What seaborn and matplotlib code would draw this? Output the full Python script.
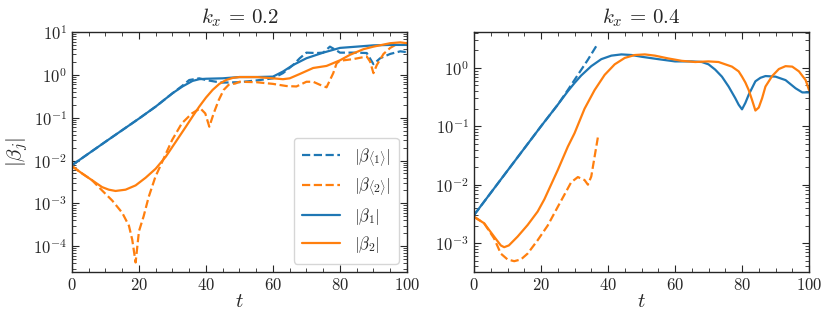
import matplotlib
matplotlib.use("Agg")
import matplotlib.pyplot as plt
import matplotlib.ticker as mticker
import seaborn as sns

# -----------------------
# data (|beta| vs t)
# -----------------------
# k_x = 0.2
t_b1_l = [0, 10, 20, 25, 30, 33, 36, 38, 40, 45, 50, 55, 60, 63, 66, 70, 75, 80, 85, 90, 95, 100]
b1_l = [0.0078, 0.0275, 0.0955, 0.182, 0.372, 0.537, 0.724, 0.794, 0.813, 0.832, 0.891, 0.891,
        0.912, 1.20, 1.70, 2.45, 3.31, 4.27, 4.57, 4.90, 5.01, 5.01]

t_b1d_l = [0, 10, 20, 25, 30, 33, 35, 38, 40, 43, 45, 50, 55, 60, 63, 66, 68, 70, 73, 75, 77, 79,
           80, 85, 88, 90, 92, 95, 98, 100]
b1d_l = [0.0078, 0.0275, 0.0955, 0.182, 0.372, 0.562, 0.759, 0.832, 0.759, 0.692, 0.661, 0.676,
         0.741, 0.832, 1.10, 1.70, 2.45, 3.31, 3.24, 3.31, 4.57, 3.72, 3.31, 3.31, 3.24, 1.78,
         2.45, 3.09, 3.55, 3.40]

t_b2_l = [0, 3, 6, 9, 11, 13, 16, 19, 22, 25, 28, 31, 34, 36, 38, 40, 42, 44, 46, 48, 50, 55, 60,
          63, 65, 68, 72, 76, 80, 83, 87, 90, 95, 98, 100]
b2_l = [0.00741, 0.00501, 0.00347, 0.00240, 0.00209, 0.00195, 0.00209, 0.00263, 0.00398,
        0.00646, 0.0123, 0.0275, 0.0617, 0.107, 0.182, 0.295, 0.447, 0.617, 0.759, 0.851, 0.891,
        0.891, 0.832, 0.794, 0.832, 1.05, 1.45, 1.62, 2.19, 2.95, 3.98, 4.57, 5.50, 5.75, 5.50]

t_b2d_l = [0, 3, 6, 9, 12, 15, 17, 18, 19, 20, 21.4, 22.9, 24.9, 27.4, 29.9, 32.8, 35.8, 38.3,
           39.8, 41, 42.3, 43.8, 45.3, 46.8, 48.8, 50, 55, 60, 64, 67, 70, 72, 74, 76, 78, 79, 80,
           84, 88, 89, 90, 91, 93, 95, 97]
b2d_l = [0.00741, 0.00501, 0.00347, 0.00200, 0.00117, 0.000603, 0.000302, 0.000141, 0.0000417,
         0.000224, 0.000501, 0.00141, 0.00417, 0.0112, 0.0302, 0.0741, 0.126, 0.166, 0.126,
         0.0617, 0.126, 0.257, 0.447, 0.589, 0.631, 0.692, 0.676, 0.617, 0.550, 0.537, 0.692,
         0.692, 0.589, 0.513, 1.10, 1.86, 2.14, 2.34, 2.69, 2.04, 1.10, 1.70, 3.09, 4.27, 5.25]

# k_x = 0.4
t_b1_r = [0, 10, 20, 25, 28, 30, 32, 35, 38, 41, 44, 47, 50, 55, 60, 65, 68, 70, 72, 74, 76, 78,
          79, 80, 81, 82, 84, 85.5, 87, 90, 93, 96, 98, 100]
b1_r = [0.00302, 0.0174, 0.100, 0.234, 0.398, 0.550, 0.741, 1.07, 1.41, 1.62, 1.70, 1.66, 1.55,
        1.41, 1.29, 1.29, 1.26, 1.15, 0.933, 0.708, 0.479, 0.302, 0.234, 0.195, 0.251, 0.347,
        0.589, 0.676, 0.724, 0.708, 0.617, 0.447, 0.380, 0.380]

t_b1d_r = [0, 10, 20, 25, 28, 31, 34, 37]
b1d_r = [0.00302, 0.0174, 0.100, 0.234, 0.417, 0.759, 1.38, 2.63]

t_b2_r = [0, 3, 6, 8, 9, 10.4, 13, 16, 19, 21, 25, 28, 30, 33, 36, 39, 42, 45, 48, 51, 54, 58, 62,
          66, 70, 73, 75, 77, 79, 80, 81, 82, 83, 84, 85, 86, 87, 89, 91, 93, 95, 97, 99, 100]
b2_r = [0.00282, 0.00219, 0.00129, 0.000912, 0.000851, 0.000912, 0.00129, 0.00204, 0.00347,
        0.00562, 0.0178, 0.0447, 0.0759, 0.200, 0.417, 0.759, 1.15, 1.48, 1.66, 1.70, 1.62, 1.45,
        1.32, 1.26, 1.29, 1.26, 1.15, 1.05, 0.871, 0.708, 0.562, 0.417, 0.282, 0.186, 0.209,
        0.302, 0.479, 0.724, 0.955, 1.07, 1.05, 0.871, 0.617, 0.417]

t_b2d_r = [0, 3, 6, 8, 10, 12, 14, 16, 19, 22, 25, 27, 29, 31, 33, 34, 35, 36, 37]
b2d_r = [0.00282, 0.00219, 0.00120, 0.000661, 0.000525, 0.000490, 0.000525, 0.000661, 0.00112,
         0.00200, 0.00417, 0.00676, 0.0110, 0.0135, 0.0120, 0.0100, 0.0138, 0.0302, 0.0661]

labels = [r'$|\beta_{\langle 1\rangle}|$', r'$|\beta_{\langle 2\rangle}|$',
          r'$|\beta_1|$', r'$|\beta_2|$']

# -----------------------
# style
# -----------------------
sns.set_style("ticks")
plt.rcParams['font.family'] = 'serif'
plt.rcParams['font.serif'] = ['cmr10', 'DejaVu Serif']
plt.rcParams['mathtext.fontset'] = 'cm'
plt.rcParams['axes.formatter.use_mathtext'] = True
plt.rcParams['axes.unicode_minus'] = False

blue = '#1f77b4'
orange = '#ff7f0e'

fig = plt.figure(figsize=(8.3, 3.24), dpi=100)
ax1 = fig.add_axes([0.0867, 0.1605, 0.4036, 0.7405])
ax2 = fig.add_axes([0.5711, 0.1605, 0.4036, 0.7405])

panels = [
    (ax1, r'$k_x \,=\, 0.2$', [(t_b1d_l, b1d_l), (t_b2d_l, b2d_l), (t_b1_l, b1_l), (t_b2_l, b2_l)],
     (2.5e-5, 10)),
    (ax2, r'$k_x \,=\, 0.4$', [(t_b1d_r, b1d_r), (t_b2d_r, b2d_r), (t_b1_r, b1_r), (t_b2_r, b2_r)],
     (3.2e-4, 4.1)),
]

styles = [(blue, '--'), (orange, '--'), (blue, '-'), (orange, '-')]

for ax, title, series, ylim in panels:
    for (tt, vals), (col, ls), lab in zip(series, styles, labels):
        sns.lineplot(x=tt, y=vals, ax=ax, color=col, linestyle=ls, linewidth=1.6,
                     label=lab, sort=False)
    ax.set_yscale('log')
    ax.set_xlim(0, 100)
    ax.set_ylim(*ylim)
    ax.set_title(title, fontsize=15, pad=6)
    ax.set_xlabel(r'$t$', fontsize=15, labelpad=0)
    ax.xaxis.set_major_locator(mticker.MultipleLocator(20))
    ax.xaxis.set_minor_locator(mticker.MultipleLocator(5))
    ax.yaxis.set_major_locator(mticker.LogLocator(base=10, numticks=20))
    ax.yaxis.set_minor_locator(mticker.LogLocator(base=10, subs=range(2, 10), numticks=20))
    ax.yaxis.set_minor_formatter(mticker.NullFormatter())
    ax.tick_params(which='both', direction='in', top=True, right=True, labelsize=12)
    ax.tick_params(which='major', length=5)
    ax.tick_params(which='minor', length=3)
    for sp in ax.spines.values():
        sp.set_linewidth(1.0)

ax1.set_ylabel(r'$|\beta_j|$', fontsize=15, labelpad=2)
ax1.legend(loc='lower right', fontsize=12, handlelength=2.3, labelspacing=0.45,
           borderpad=0.5)
ax2.get_legend().remove()

fig.savefig('out.png', dpi=100)
